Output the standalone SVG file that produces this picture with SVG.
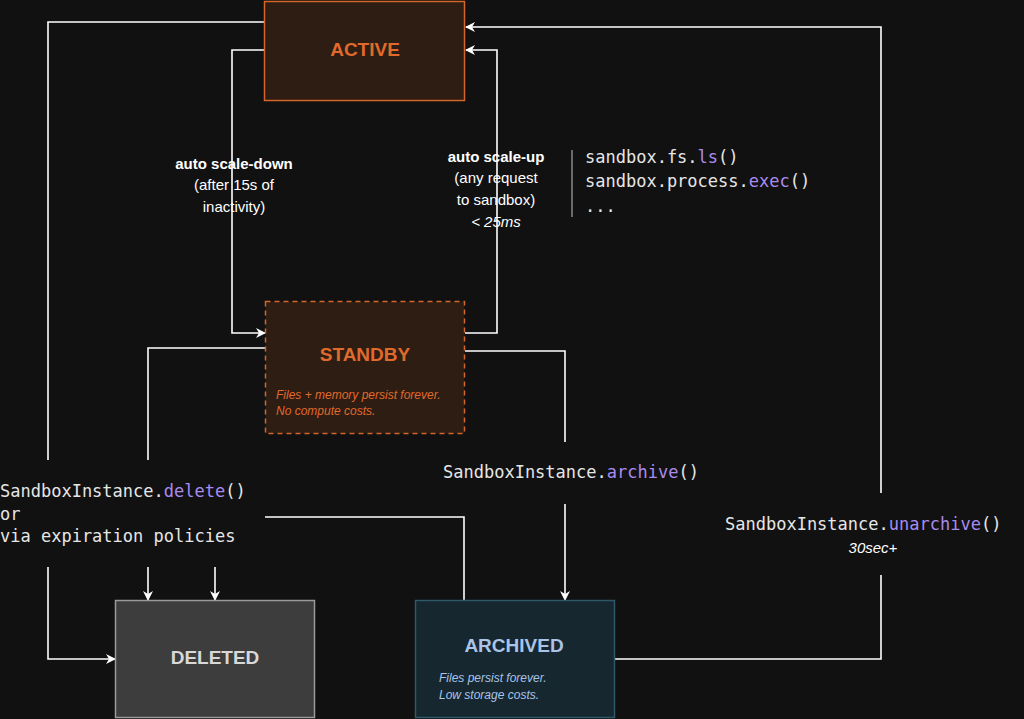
<svg xmlns="http://www.w3.org/2000/svg" width="1024" height="719" viewBox="0 0 1024 719">
<defs>
<marker id="ah" viewBox="0 0 10 10" refX="9" refY="5" markerWidth="10" markerHeight="10" markerUnits="userSpaceOnUse" orient="auto"><path d="M0,0 L10,5 L0,10 L3,5 z" fill="#fff"/></marker>
<style>
.c{fill:none;stroke:#fff;stroke-width:1.6}
.a{marker-end:url(#ah)}
.m{font-family:"DejaVu Sans Mono",monospace;font-size:17px;fill:#e6e6e6}
.p{fill:#a98bf0}
.s{font-family:"Liberation Sans",Arial,sans-serif;font-size:15px;fill:#fff;text-anchor:middle}
.t{font-family:"Liberation Sans",Arial,sans-serif;font-size:19px;font-weight:bold;text-anchor:middle}
.i{font-family:"Liberation Sans",Arial,sans-serif;font-size:12px;font-style:italic}
</style>
</defs>
<rect width="1024" height="719" fill="#111111"/>
<g id="connectors">
<path class="c" d="M48,460 V22 H264"/>
<path class="c a" d="M264,50 H232 V333 H265"/>
<path class="c a" d="M465,333 H497 V50 H466"/>
<path class="c a" d="M614,659 H881 V575 M881,493 V27 H466"/>
<path class="c" d="M265,348 H148 V460"/>
<path class="c a" d="M148,567 V600"/>
<path class="c a" d="M215,567 V600"/>
<path class="c a" d="M48,567 V659 H115"/>
<path class="c" d="M265,517 H464 V600"/>
<path class="c" d="M465,351 H565 V442"/>
<path class="c a" d="M565,504 V600"/>
<path d="M572,150 V217" stroke="#888" stroke-width="1.5"/>
</g>
<g id="active">
<rect x="264.5" y="1.5" width="200" height="99" fill="#2d1d12" stroke="#d4662b" stroke-width="1.5"/>
<text class="t" x="365" y="56" fill="#e06a2c">ACTIVE</text>
</g>
<g id="standby">
<rect x="265.5" y="301.5" width="199" height="132" fill="#2d1d12" stroke="#d4662b" stroke-width="1.5" stroke-dasharray="5,4"/>
<text class="t" x="365" y="361" fill="#e06a2c">STANDBY</text>
<text class="i" x="276" y="399" fill="#e06a2c">Files + memory persist forever.</text>
<text class="i" x="276" y="415" fill="#e06a2c">No compute costs.</text>
</g>
<g id="deleted">
<rect x="115.5" y="600.5" width="199" height="117" fill="#3d3d3d" stroke="#9a9a9a" stroke-width="1.5"/>
<text class="t" x="215" y="664" fill="#d8d8d8">DELETED</text>
</g>
<g id="archived">
<rect x="415.5" y="600.5" width="199" height="117" fill="#16272f" stroke="#2f5868" stroke-width="1.5"/>
<text class="t" x="514" y="652" fill="#a9c4e8">ARCHIVED</text>
<text class="i" x="439" y="682" fill="#a9c4e8">Files persist forever.</text>
<text class="i" x="439" y="699" fill="#a9c4e8">Low storage costs.</text>
</g>
<g id="labels">
<text class="s" x="234" y="169" font-weight="bold">auto scale-down</text>
<text class="s" x="234" y="190">(after 15s of</text>
<text class="s" x="234" y="212">inactivity)</text>
<text class="s" x="496" y="162" font-weight="bold">auto scale-up</text>
<text class="s" x="496" y="183">(any request</text>
<text class="s" x="496" y="205">to sandbox)</text>
<text class="s" x="496" y="227" font-style="italic">&lt; 25ms</text>
<text class="m" x="585" y="163">sandbox.fs.<tspan class="p">ls</tspan>()</text>
<text class="m" x="585" y="187">sandbox.process.<tspan class="p">exec</tspan>()</text>
<text class="m" x="585" y="212">...</text>
<text class="m" x="0" y="497">SandboxInstance.<tspan class="p">delete</tspan>()</text>
<text class="m" x="0" y="520">or</text>
<text class="m" x="0" y="542">via expiration policies</text>
<text class="m" x="443" y="478">SandboxInstance.<tspan class="p">archive</tspan>()</text>
<text class="m" x="725" y="530">SandboxInstance.<tspan class="p">unarchive</tspan>()</text>
<text class="s" x="873" y="553" font-style="italic">30sec+</text>
</g>
</svg>
